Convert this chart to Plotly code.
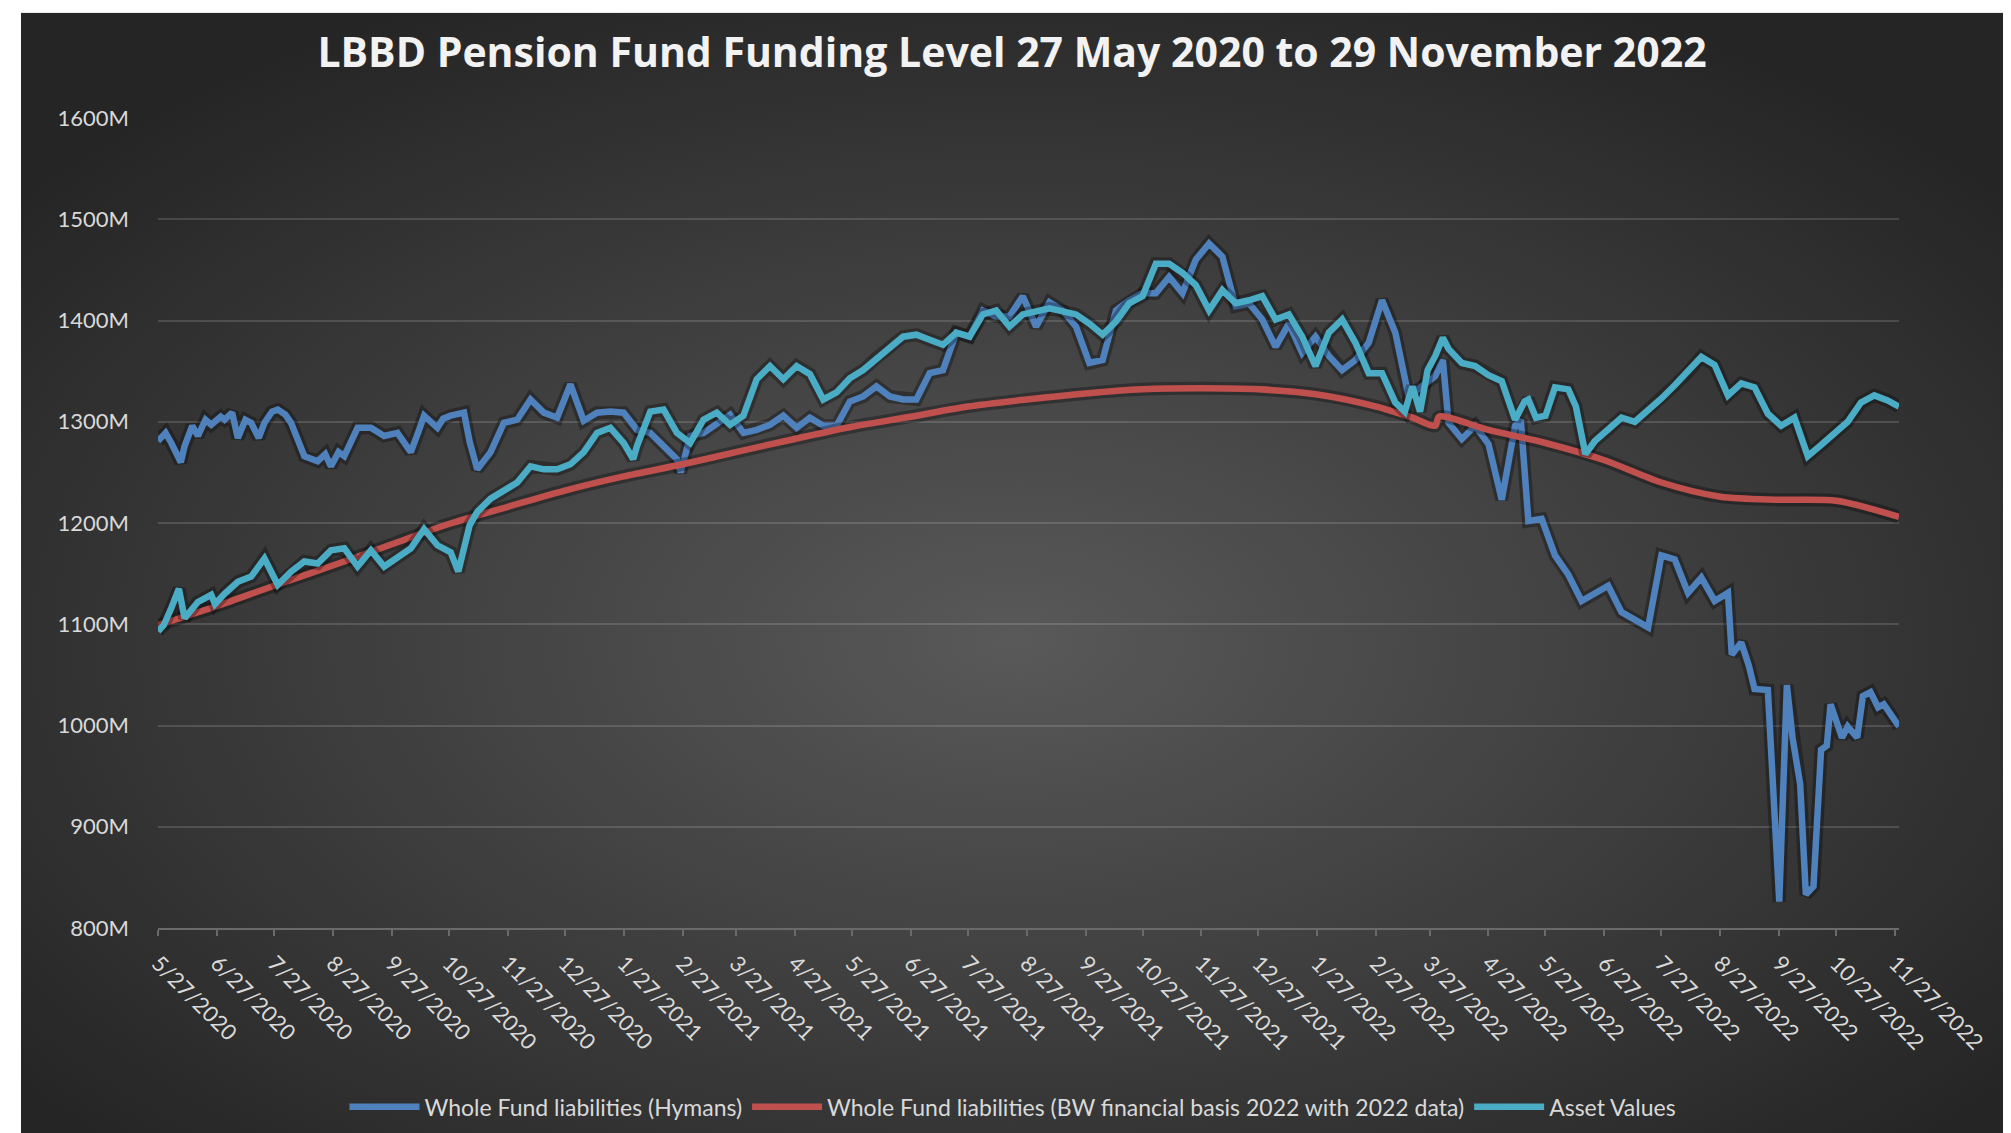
import base64
import pandas as pd
import plotly.graph_objects as go

START = pd.Timestamp("2020-05-27")

# ---- data (day offsets from 27 May 2020, values in £M) ----
hymans_days = [0, 4, 7, 12, 14, 18, 21, 25, 28, 33, 35, 39, 42, 46, 49, 53, 56, 60, 63, 67, 70, 77, 84, 88, 91, 95, 98,
               105, 112, 119, 126, 133, 137, 140, 147, 150, 154, 161, 164, 168, 175, 182, 189, 196, 203, 210, 217, 224,
               231, 238, 245, 252, 259, 266, 273, 275, 280, 287, 294, 301, 308, 315, 322, 329, 336, 343, 350, 357, 364,
               371, 378, 385, 392, 399, 406, 413, 420, 427, 434, 441, 448, 455, 462, 469, 476, 483, 490, 497, 504, 511,
               518, 525, 532, 539, 546, 553, 560, 567, 574, 581, 588, 595, 602, 609, 616, 623, 630, 637, 644, 651, 658,
               665, 672, 676, 679, 686, 693, 700, 707, 714, 717, 721, 728, 735, 742, 749, 756, 763, 770, 777, 784, 791,
               798, 805, 812, 819, 826, 828, 833, 837, 840, 847, 853, 857, 860, 864, 867, 871, 873, 875, 878, 880, 884,
               886, 889, 894, 897, 901, 905, 908, 912, 916]
hymans_values = [1281, 1289, 1279, 1260, 1276, 1296, 1286, 1302, 1297, 1305, 1302, 1309, 1284, 1302, 1299, 1284, 1299,
                 1310, 1312, 1307, 1299, 1266, 1261, 1268, 1256, 1270, 1266, 1294, 1294, 1286, 1289, 1270, 1290, 1306,
                 1294, 1303, 1306, 1309, 1280, 1253, 1270, 1299, 1302, 1322, 1309, 1304, 1337, 1301, 1309, 1310, 1309,
                 1292, 1289, 1276, 1263, 1250, 1286, 1289, 1299, 1307, 1289, 1292, 1297, 1306, 1294, 1304, 1296, 1296,
                 1320, 1325, 1335, 1325, 1322, 1322, 1348, 1351, 1388, 1384, 1410, 1404, 1404, 1424, 1394, 1418, 1410,
                 1394, 1358, 1361, 1410, 1420, 1427, 1427, 1443, 1427, 1460, 1476, 1463, 1414, 1417, 1401, 1374, 1397,
                 1368, 1384, 1365, 1351, 1361, 1378, 1420, 1388, 1325, 1335, 1345, 1361, 1299, 1283, 1296, 1278, 1223,
                 1296, 1302, 1202, 1204, 1168, 1149, 1123, 1131, 1138, 1112, 1104, 1097, 1168, 1164, 1131, 1146, 1123,
                 1131, 1070, 1082, 1059, 1036, 1035, 826, 1040, 988, 942, 833, 841, 905, 976, 980, 1021, 999, 988, 999,
                 988, 1029, 1033, 1018, 1021, 1010, 999]

bw_days = [0, 31, 61, 92, 123, 153, 184, 214, 245, 276, 304, 335, 365, 396, 426, 457, 488, 518, 549, 579, 610, 641,
           660, 672, 674, 700, 730, 761, 791, 822, 853, 883, 916]
bw_values = [1099, 1118, 1138, 1158, 1179, 1199, 1216, 1232, 1246, 1258, 1270, 1283, 1295, 1305, 1315, 1322, 1328,
             1332, 1333, 1332, 1327, 1315, 1304, 1296, 1305, 1292, 1279, 1262, 1240, 1226, 1223, 1222, 1206]

asset_days = [0, 3, 7, 11, 14, 21, 28, 30, 35, 42, 49, 56, 63, 70, 77, 84, 91, 98, 105, 112, 119, 126, 133, 140, 147,
              154, 158, 164, 168, 175, 182, 189, 196, 203, 210, 217, 224, 231, 238, 245, 250, 252, 259, 266, 273, 280,
              287, 294, 301, 308, 315, 322, 329, 336, 343, 350, 357, 364, 371, 378, 385, 392, 399, 406, 413, 420, 427,
              434, 441, 448, 455, 462, 469, 476, 483, 490, 497, 504, 511, 518, 525, 532, 539, 546, 553, 560, 567, 574,
              581, 588, 595, 602, 609, 616, 623, 630, 637, 644, 651, 656, 660, 664, 668, 672, 676, 679, 686, 693, 700,
              707, 714, 719, 721, 725, 730, 735, 742, 746, 751, 756, 763, 770, 777, 784, 791, 798, 805, 812, 819, 826,
              833, 840, 847, 854, 861, 868, 875, 882, 889, 896, 903, 910, 916]
asset_values = [1093, 1099, 1116, 1135, 1106, 1122, 1129, 1120, 1130, 1142, 1147, 1165, 1139, 1152, 1162, 1160, 1173,
                1175, 1157, 1173, 1157, 1166, 1175, 1194, 1178, 1171, 1152, 1198, 1211, 1224, 1232, 1240, 1256, 1253,
                1253, 1258, 1270, 1289, 1294, 1279, 1263, 1276, 1310, 1312, 1289, 1279, 1302, 1309, 1297, 1306, 1342,
                1355, 1342, 1355, 1347, 1322, 1329, 1343, 1351, 1363, 1373, 1384, 1386, 1381, 1376, 1388, 1384, 1406,
                1410, 1394, 1406, 1409, 1412, 1409, 1406, 1397, 1386, 1399, 1417, 1424, 1456, 1456, 1447, 1435, 1410,
                1430, 1417, 1420, 1424, 1401, 1406, 1384, 1355, 1388, 1401, 1378, 1348, 1348, 1319, 1310, 1335, 1310,
                1351, 1365, 1383, 1372, 1358, 1355, 1346, 1340, 1302, 1320, 1322, 1304, 1306, 1334, 1332, 1315, 1268,
                1281, 1292, 1304, 1300, 1311, 1323, 1336, 1349, 1364, 1356, 1326, 1338, 1334, 1308, 1296, 1304, 1266,
                1277, 1289, 1300, 1319, 1326, 1321, 1315]

x_tick_labels = ["5/27/2020", "6/27/2020", "7/27/2020", "8/27/2020", "9/27/2020", "10/27/2020", "11/27/2020",
                 "12/27/2020", "1/27/2021", "2/27/2021", "3/27/2021", "4/27/2021", "5/27/2021", "6/27/2021",
                 "7/27/2021", "8/27/2021", "9/27/2021", "10/27/2021", "11/27/2021", "12/27/2021", "1/27/2022",
                 "2/27/2022", "3/27/2022", "4/27/2022", "5/27/2022", "6/27/2022", "7/27/2022", "8/27/2022",
                 "9/27/2022", "10/27/2022", "11/27/2022"]
y_ticks = [800, 900, 1000, 1100, 1200, 1300, 1400, 1500, 1600]
y_tick_labels = ["800M", "900M", "1000M", "1100M", "1200M", "1300M", "1400M", "1500M", "1600M"]

series_names = ["Whole Fund liabilities (Hymans)",
                "Whole Fund liabilities (BW financial basis 2022 with 2022 data)",
                "Asset Values"]
series_colors = ["#4F81BD", "#C0504D", "#4BACC6"]

# ---- layout geometry ----
W, H = 2011, 1133
ML, MR, MT, MB = 150, 120, 110, 208
PW, PH = W - ML - MR, H - MT - MB


def to_dates(days):
    return [START + pd.Timedelta(days=d) for d in days]


fig = go.Figure()

series = [
    (hymans_days, hymans_values, "linear"),
    (bw_days, bw_values, "spline"),
    (asset_days, asset_values, "linear"),
]

for (days, vals, shape), name, color in zip(series, series_names, series_colors):
    xs = to_dates(days)
    fig.add_trace(go.Scatter(x=xs, y=vals, mode="lines", showlegend=False, hoverinfo="skip",
                             line=dict(color="rgba(0,0,0,0.30)", width=13, shape=shape,
                                       smoothing=0.8 if shape == "spline" else None)))
    fig.add_trace(go.Scatter(x=xs, y=vals, mode="lines", name=name,
                             line=dict(color=color, width=6.5, shape=shape,
                                       smoothing=0.8 if shape == "spline" else None)))

# radial-gradient dark background as an SVG image
BG_X0, BG_Y0, BG_X1, BG_Y1 = 13, 4, 1997, H
bw, bh = BG_X1 - BG_X0, BG_Y1 - BG_Y0
svg = (f'<svg xmlns="http://www.w3.org/2000/svg" width="{bw}" height="{bh}" viewBox="0 0 {bw} {bh}" '
       f'preserveAspectRatio="none"><defs><radialGradient id="g" cx="0.5" cy="0.56" r="0.64">'
       f'<stop offset="0" stop-color="#595959"/><stop offset="1" stop-color="#252525"/>'
       f'</radialGradient></defs><rect width="{bw}" height="{bh}" fill="url(#g)"/></svg>')
src = "data:image/svg+xml;base64," + base64.b64encode(svg.encode()).decode()
fig.add_layout_image(dict(source=src, xref="paper", yref="paper",
                          x=(BG_X0 - ML) / PW, y=(H - MB - BG_Y0) / PH,
                          sizex=bw / PW, sizey=bh / PH,
                          xanchor="left", yanchor="top", sizing="stretch", layer="below"))

tick_font = dict(family="Lato, Open Sans, sans-serif", size=22, color="#d9d9d9")

fig.update_layout(
    width=W, height=H,
    margin=dict(l=ML, r=MR, t=MT, b=MB),
    paper_bgcolor="white",
    plot_bgcolor="rgba(0,0,0,0)",
    title=dict(text="<b>LBBD Pension Fund Funding Level 27 May 2020 to 29 November 2022</b>",
               x=1004 / W, xanchor="center", y=1 - 45 / H, yanchor="middle", yref="container",
               font=dict(family="Open Sans, sans-serif", size=41, color="#f2f2f2")),
    xaxis=dict(type="date", range=[START, START + pd.Timedelta(days=916)],
               tickmode="array", tickvals=pd.to_datetime(x_tick_labels, format="%m/%d/%Y"),
               ticktext=x_tick_labels, tickangle=45, tickfont=tick_font,
               showgrid=False, zeroline=False,
               showline=True, linecolor="#6a6a6a", linewidth=1.5,
               ticks="outside", ticklen=6, tickwidth=1.5, tickcolor="#6a6a6a", ticklabelstandoff=6),
    yaxis=dict(range=[800, 1600], tickmode="array", tickvals=y_ticks, ticktext=y_tick_labels,
               tickfont=tick_font, showgrid=True, gridcolor="rgba(255,255,255,0.14)", gridwidth=1.5,
               zeroline=False, showline=False, ticks="", ticklabelstandoff=28),
    legend=dict(orientation="h", x=(1005 - ML) / PW, xanchor="center", y=(H - MB - 1105) / PH,
                yanchor="middle", font=dict(family="Lato, Open Sans, sans-serif", size=23, color="#d9d9d9"),
                bgcolor="rgba(0,0,0,0)", itemwidth=70),
    showlegend=True,
)

fig.write_html("out.html")
